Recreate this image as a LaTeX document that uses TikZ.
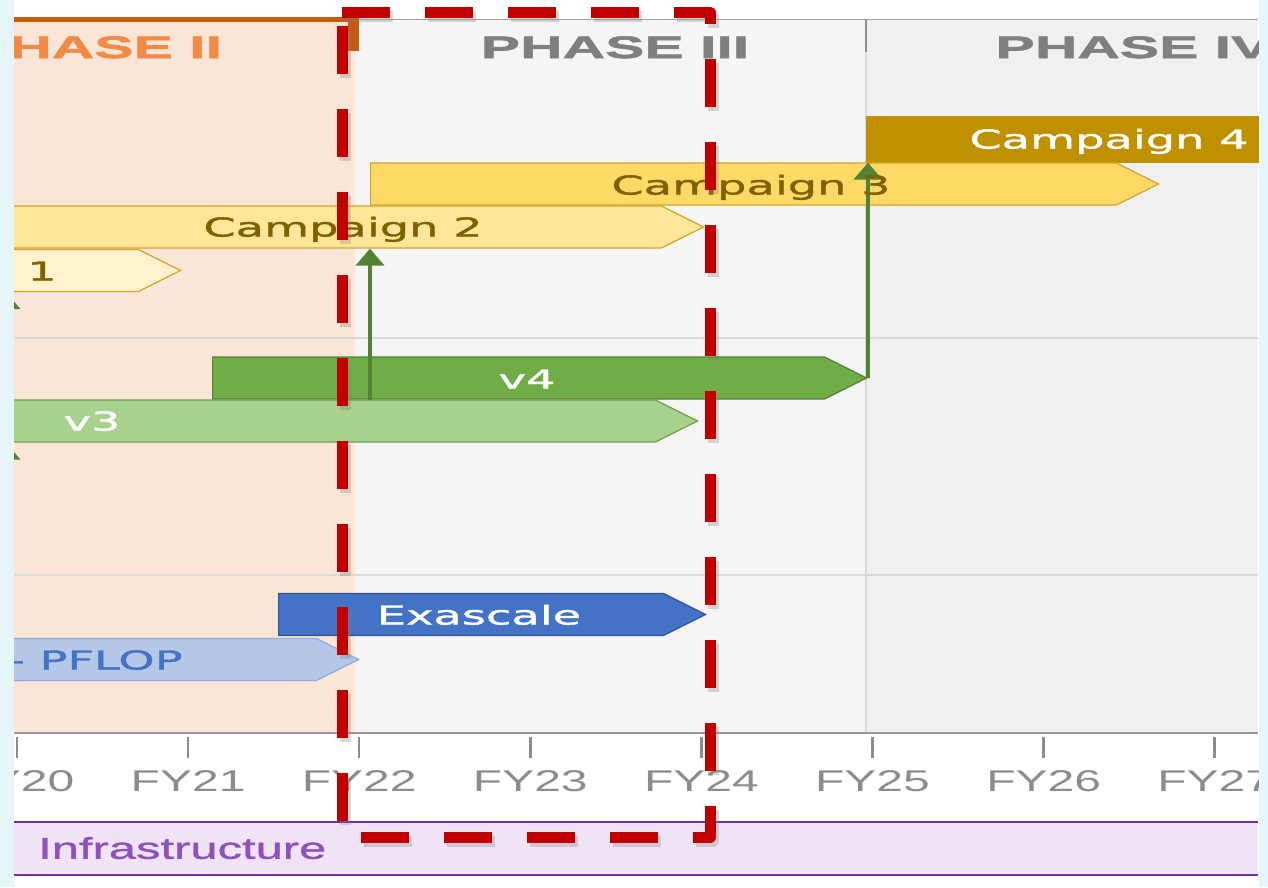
\documentclass[tikz,border=0pt]{standalone}
\usepackage{fontspec}
\setmainfont{Liberation Sans}
\newfontfamily\axisfont[FakeStretch=1.6]{Liberation Sans}
\newfontfamily\infrafont[FakeStretch=1.63,FakeBold=1.2]{Liberation Sans}
\newfontfamily\phasefont[FakeStretch=1.9,FakeBold=1.8]{Liberation Sans}
\newfontfamily\barfont[FakeStretch=1.78,FakeBold=1.4]{DejaVu Sans}
\usepackage{xcolor}
\usetikzlibrary{arrows.meta,shapes.symbols}

\definecolor{ph2bg}{HTML}{FBE5D6}
\definecolor{ph3bg}{HTML}{F5F5F5}
\definecolor{ph4bg}{HTML}{F0F0F0}
\definecolor{gridgray}{HTML}{DADADA}
\definecolor{axisgray}{HTML}{8C8C8C}
\definecolor{phasegray}{HTML}{7F7F7F}
\definecolor{ph2text}{HTML}{F08A45}
\definecolor{ph2line}{HTML}{C55A11}
\definecolor{c1fill}{HTML}{FFF2CC}
\definecolor{c2fill}{HTML}{FFE699}
\definecolor{c3fill}{HTML}{FFD966}
\definecolor{c4fill}{HTML}{BF9000}
\definecolor{campline}{HTML}{D0A52C}
\definecolor{campgold}{HTML}{7F6000}
\definecolor{v3fill}{HTML}{A9D18E}
\definecolor{v3line}{HTML}{70A050}
\definecolor{v4fill}{HTML}{70AD47}
\definecolor{v4line}{HTML}{548235}
\definecolor{depgreen}{HTML}{548235}
\definecolor{exafill}{HTML}{4472C4}
\definecolor{exaline}{HTML}{2F5597}
\definecolor{pffill}{HTML}{B4C7E7}
\definecolor{pfline}{HTML}{8FAADC}
\definecolor{pfblue}{HTML}{4472C4}
\definecolor{infrabg}{HTML}{EFE3F5}
\definecolor{infraline}{HTML}{7030A0}
\definecolor{infratext}{HTML}{8E52BA}
\definecolor{boxred}{HTML}{C00000}
\definecolor{edgecyan}{HTML}{E6F5F8}

\begin{document}
\begin{tikzpicture}[x=1pt,y=-1pt,
  bar/.style={signal,signal to=east,signal from=nowhere,signal pointer angle=53,
    minimum height=42pt,inner sep=0pt,line width=1.2pt,anchor=west},
  lbl/.style={font=\barfont\fontsize{26}{30}\selectfont,inner sep=0pt,text height=19pt,text depth=0pt},
  phase/.style={font=\phasefont\bfseries\fontsize{31}{36}\selectfont,text=phasegray,inner sep=0pt,text height=22pt,text depth=0pt},
  fy/.style={font=\axisfont\fontsize{30}{34}\selectfont,text=axisgray,inner sep=0pt,text height=21.5pt,text depth=0pt},
  dep/.style={draw=depgreen,line width=4pt,-{Triangle[length=17pt,width=28pt]}},
  gline/.style={draw=gridgray,line width=1.5pt},
  redbox/.style={draw=boxred,line width=11pt,dash pattern=on 48pt off 35pt,line join=round}]
\useasboundingbox (0,0) rectangle (1268,887);
\fill[white] (0,0) rectangle (1268,887);
% phase backgrounds
\fill[ph2bg] (14,22) rectangle (355,733);
\fill[ph3bg] (355,20) rectangle (866,733);
\fill[ph4bg] (866,20) rectangle (1258,733);
\draw[gline] (14,338) -- (1258,338);
\draw[gline] (14,575) -- (1258,575);
\draw[gline] (866,52) -- (866,733);
\draw[line width=1.5pt,draw=axisgray!80] (355,19.5) -- (1258,19.5);
\draw[line width=5pt,draw=ph2line] (14,19.5) -- (353,19.5);
\fill[ph2line] (348,17) rectangle (359,51);
\draw[line width=2pt,draw=axisgray] (866,19) -- (866,52);
\node[phase,text=ph2text] (p2) at (96,47) {PHASE II};
\node[phase] (p3) at (615,47) {PHASE III};
\node[phase] (p4) at (1133,47) {PHASE IV};

% bars
\node[bar,signal to=nowhere,fill=c4fill,draw=c4fill,minimum width=434pt,minimum height=45pt] (camp4) at (866,139.5) {};
\node[bar,fill=c3fill,draw=campline,minimum width=788pt] (camp3) at (370,184) {};
\node[bar,fill=c2fill,draw=campline,minimum width=733pt] (camp2) at (-30,227) {};
\node[bar,fill=c1fill,draw=campline,minimum width=210pt] (camp1) at (-30,270.5) {};
\node[bar,fill=v4fill,draw=v4line,minimum width=654pt] (v4) at (212,378) {};
\node[bar,fill=v3fill,draw=v3line,minimum width=727pt] (v3) at (-30,421) {};
\node[bar,fill=exafill,draw=exaline,minimum width=427pt] (exa) at (278,614.5) {};
\node[bar,fill=pffill,draw=pfline,minimum width=388pt] (pflop) at (-30,659.5) {};

% dependencies
\coordinate (edge) at (6,0);
\draw[dep] (camp3.west |- v4.south) -- (camp3.west |- camp2.south);
\draw[dep] (v4.east) -- (v4.east |- camp4.south);
\draw[dep] (edge |- v3.north) -- (edge |- camp1.south);
\draw[dep] (edge |- pflop.north) -- (edge |- v3.south);

\node[lbl,text=campgold] (c1t) at (42,271) {1};
\node[lbl,text=campgold] (c2t) at (343,227) {Campaign 2};
\node[lbl,text=campgold] (c3t) at (751,185) {Campaign 3};
\node[lbl,text=white] (c4t) at (1109,139) {Campaign 4};
\node[lbl,text=white] (v3t) at (92,421) {v3};
\node[lbl,text=white] (v4t) at (527,379) {v4};
\node[lbl,text=white] (ext) at (479,615) {Exascale};
\node[lbl,text=pfblue,anchor=west] (pft) at (8,660) {- PFLOP};

% time axis
\draw[line width=2.5pt,draw=axisgray!90] (14,733) -- (1258,733);
\foreach \i [count=\k from 0] in {20,...,27} {
  \draw[line width=2.5pt,draw=axisgray] ({17+171.1*\k},737) -- ({17+171.1*\k},758);
  \node[fy] (fy\i) at ({17+171.1*\k},781) {FY\i};
}

% infrastructure lane
\fill[infrabg] (14,822) rectangle (1258,875);
\draw[line width=2pt,draw=infraline] (14,822) -- (1258,822) (14,875) -- (1258,875);
\node[fy,font=\infrafont\fontsize{30}{34}\selectfont,text=infratext,anchor=west] (infra) at (38,848) {Infrastructure};

% highlight box
\draw[redbox,draw=gray,opacity=0.3] (345,16) -- (713,16) -- (713,841) -- (345,841) -- cycle;
\draw[redbox] (342,12) -- (710,12) -- (710,837) -- (342,837) -- cycle;

\fill[edgecyan] (0,0) rectangle (14,887);
\fill[edgecyan] (1259,0) rectangle (1268,887);
\end{tikzpicture}
\end{document}
